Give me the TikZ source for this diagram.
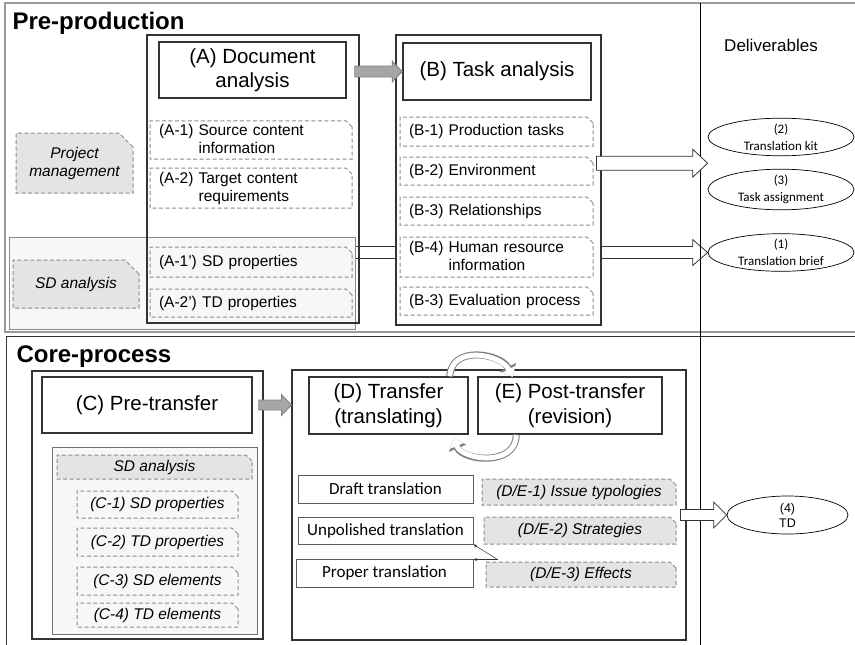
\documentclass[tikz,border=0pt]{standalone}
\usepackage{fontspec}
\setmainfont{Liberation Sans}
\newfontfamily\calfont{Carlito}
\usepackage{tikz}
\usetikzlibrary {arrows.meta}
\usetikzlibrary {shapes.misc, shapes.geometric, calc}

\definecolor{boxline}{HTML}{333333}
\definecolor{dashline}{HTML}{8C8C8C}
\definecolor{tabfill}{HTML}{E4E4E4}
\definecolor{bandfill}{HTML}{F7F7F7}
\definecolor{bandline}{HTML}{8A8A8A}
\definecolor{arrowfill}{HTML}{A6A6A6}
\definecolor{arrowline}{HTML}{7F7F7F}
\definecolor{framegrey}{HTML}{9A9A9A}

\pgfdeclarelayer{bg}
\pgfsetlayers{bg,main}

% block arrow: [style]{from}{to}{shaft half}{head half}{head length}
\newcommand{\blkarrow}[6][]{%
  \draw[blockarrow, #1] let \p1=(#2), \p2=(#3) in
    (\x1,\y2+#4) -- (\x2-#6,\y2+#4) -- (\x2-#6,\y2+#5) -- (\x2,\y2)
    -- (\x2-#6,\y2-#5) -- (\x2-#6,\y2-#4) -- (\x1,\y2-#4) -- cycle;}

\tikzset{
  wh/.style 2 args={minimum width=#1pt, minimum height=#2pt},
  column/.style={draw=boxline, line width=1.1pt, inner sep=0pt},
  header/.style={draw=boxline, line width=1.6pt, fill=white, inner sep=0pt,
    align=center, font=\fontsize{20.5}{24.5}\selectfont},
  item/.style={chamfered rectangle, chamfered rectangle corners=north east,
    chamfered rectangle xsep=3pt, chamfered rectangle ysep=3pt,
    draw=dashline, dash pattern=on 4pt off 2.5pt, line width=1pt,
    inner xsep=6pt, inner ysep=0pt, font=\fontsize{15.5}{18}\selectfont},
  leftitem/.style={item, align=left, text width=#1pt},
  greyitem/.style={item, fill=tabfill, align=center,
    font=\fontsize{15.5}{18}\selectfont\itshape},
  band/.style={draw=bandline, fill=bandfill, line width=0.8pt, inner sep=0pt},
  stage/.style={draw=boxline!80, line width=0.7pt, inner sep=0pt,
    font=\calfont\fontsize{17}{20}\selectfont},
  deliv/.style={ellipse, draw=black, line width=0.7pt, inner sep=0pt,
    align=center, font=\calfont\fontsize{13}{17}\selectfont},
  blockarrow/.style={draw=boxline, fill=white, line width=0.8pt},
  greyarrow/.style={draw=arrowline, fill=arrowfill, line width=0.8pt},
  cyc/.style={preaction={draw=arrowline, line width=7pt,
      -{Triangle[length=11pt, width=18pt]}},
    draw=white, line width=5pt, shorten >=1.4pt,
    -{Triangle[length=8.6pt, width=14pt]}},
  pointer/.style={draw=boxline, line width=0.5pt, -{Stealth[length=4pt, width=3pt]}},
}

\begin{document}
\begin{tikzpicture}[x=1pt, y=-1pt]
  \useasboundingbox (0,0) rectangle (855,645);

  % 枠
  \draw[framegrey, line width=1.6pt] (860,3) -| (5,332) -- (860,332);
  \draw[boxline, line width=0.8pt] (860,336) -| (6,650);
  \draw[black, line width=0.8pt] (700,3) -- (700,645);

  \node[anchor=base west, font=\fontsize{24}{28}\selectfont\bfseries] (pretitle) at (9,29) {Pre-production};
  \node[anchor=base west, font=\fontsize{24}{28}\selectfont\bfseries] (coretitle) at (13,362) {Core-process};
  \node[font=\fontsize{17}{20}\selectfont] (delivtitle) at (771,45) {Deliverables};

  % Pre-production
  \node[band, wh={346}{92}] (sdband) at (182,283) {};
  \node[column, wh={212}{288}] (colA) at (253,179) {};
  \node[header, wh={187}{56}] (docana) at (252.5,70) {(A) Document\\analysis};
  \node[leftitem=184, wh={196}{38}] (srcinfo) at (251,140) {(A-1) Source content\\\phantom{(A-1) }information};
  \node[leftitem=184, wh={196}{40}] (tgtreq) at (251,188) {(A-2) Target content\\\phantom{(A-2) }requirements};
  \node[leftitem=184, wh={196}{30}] (sdprop) at (251,262) {(A-1') SD properties};
  \node[leftitem=184, wh={196}{28}] (tdprop) at (251,303) {(A-2') TD properties};

  \node[greyitem, chamfered rectangle xsep=7pt, chamfered rectangle ysep=7pt, wh={117}{60}] (projman) at (74.5,163) {Project\\management};
  \node[greyitem, chamfered rectangle xsep=7pt, chamfered rectangle ysep=7pt, wh={126}{48}] (sdana) at (76,284) {SD analysis};

  \node[column, fill=white, wh={205}{290}] (colB) at (498.5,180) {};
  \node[header, wh={188}{57}] (taskana) at (497,71.5) {(B) Task analysis};
  \node[leftitem=175, wh={187}{29}] (prodtask) at (496.5,131.5) {(B-1) Production tasks};
  \node[leftitem=175, wh={187}{28}] (environ) at (496.5,171) {(B-2) Environment};
  \node[leftitem=175, wh={187}{28}] (relation) at (496.5,211) {(B-3) Relationships};
  \node[leftitem=175, wh={187}{40}] (humanres) at (496.5,257) {(B-4) Human resource\\\phantom{(B-4) }information};
  \node[leftitem=175, wh={187}{28}] (evalproc) at (496.5,301) {(B-3) Evaluation process};

  \node[deliv, wh={146}{34}] (kit) at (781,137) {(2)\\Translation kit};
  \node[deliv, wh={146}{33}] (assign) at (781,189.5) {(3)\\Task assignment};
  \node[deliv, wh={146}{33}] (brief) at (781,252.5) {(1)\\Translation brief};

  \coordinate (kittip) at ($(kit.west)!0.5!(assign.west)$);
  \blkarrow[greyarrow]{[xshift=8pt]docana.east}{taskana.west}{5.5pt}{10.5pt}{10pt}
  \blkarrow{[xshift=-5pt]colB.east}{kittip}{7pt}{14pt}{15pt}
  \begin{pgfonlayer}{bg}
    \blkarrow{sdband.east}{brief.west}{6pt}{13pt}{15pt}
  \end{pgfonlayer}

  % Core-process
  \node[column, wh={231}{268}] (colC) at (147.5,505) {};
  \node[header, wh={210}{56}] (pretrans) at (147,405) {(C) Pre-transfer};
  \node[band, draw=boxline!70, wh={205}{187}] (sdpanel) at (154.5,540.5) {};
  \node[greyitem, wh={195}{24}] (sdhead) at (154.5,467) {SD analysis};
  \node[item, wh={161}{27}, font=\fontsize{15.5}{18}\selectfont\itshape] (csdprop) at (157.5,504.5) {(C-1) SD properties};
  \node[item, wh={161}{28}, font=\fontsize{15.5}{18}\selectfont\itshape] (ctdprop) at (157.5,542) {(C-2) TD properties};
  \node[item, wh={161}{28}, font=\fontsize{15.5}{18}\selectfont\itshape] (csdelem) at (157.5,581) {(C-3) SD elements};
  \node[item, wh={161}{24}, font=\fontsize{15.5}{18}\selectfont\itshape] (ctdelem) at (157.5,615) {(C-4) TD elements};

  \node[column, wh={394}{270}] (colDE) at (489,505) {};
  \node[header, wh={159}{57}] (transfer) at (388.5,405.5) {(D) Transfer\\(translating)};
  \node[header, wh={184}{57}] (posttrans) at (570,405.5) {(E) Post-transfer\\(revision)};

  \node[stage, wh={175}{28}] (draft) at (385.5,489) {Draft translation};
  \node[stage, wh={175}{27}] (unpol) at (385.5,530.5) {Unpolished translation};
  \node[stage, wh={177}{28}] (proper) at (384.5,573) {Proper translation};
  \node[greyitem, wh={194}{26}] (issue) at (579,492) {(D/E-1) Issue typologies};
  \node[greyitem, wh={192}{27}] (strat) at (580,530.5) {(D/E-2) Strategies};
  \node[greyitem, wh={190}{25}] (effect) at (581,574.5) {(D/E-3) Effects};

  \node[deliv, font=\fontsize{12.5}{15}\selectfont, wh={121}{38}] (td) at (787.5,515) {(4)\\TD};

  \blkarrow[greyarrow]{[xshift=6pt]pretrans.east}{colDE.west |- pretrans.east}{5pt}{10.5pt}{10pt}
  \blkarrow{[xshift=-6pt]colDE.east}{td.west}{5.5pt}{13pt}{13pt}

  % 循環
  \draw[cyc] ([xshift=-19pt]transfer.north east) .. controls +(2,-32) and +(-12,-24) .. ([xshift=36pt,yshift=-2pt]posttrans.north west);
  \draw[cyc] ([xshift=39pt]posttrans.south west) .. controls +(0,32) and +(10,24) .. ([xshift=-16pt,yshift=-2pt]transfer.south east);

  \coordinate (fork) at ([xshift=12pt,yshift=2pt]effect.north west);
  \draw[pointer] (fork) -- (unpol.south east);
  \draw[pointer] (fork) -- (proper.east |- fork);
\end{tikzpicture}
\end{document}
